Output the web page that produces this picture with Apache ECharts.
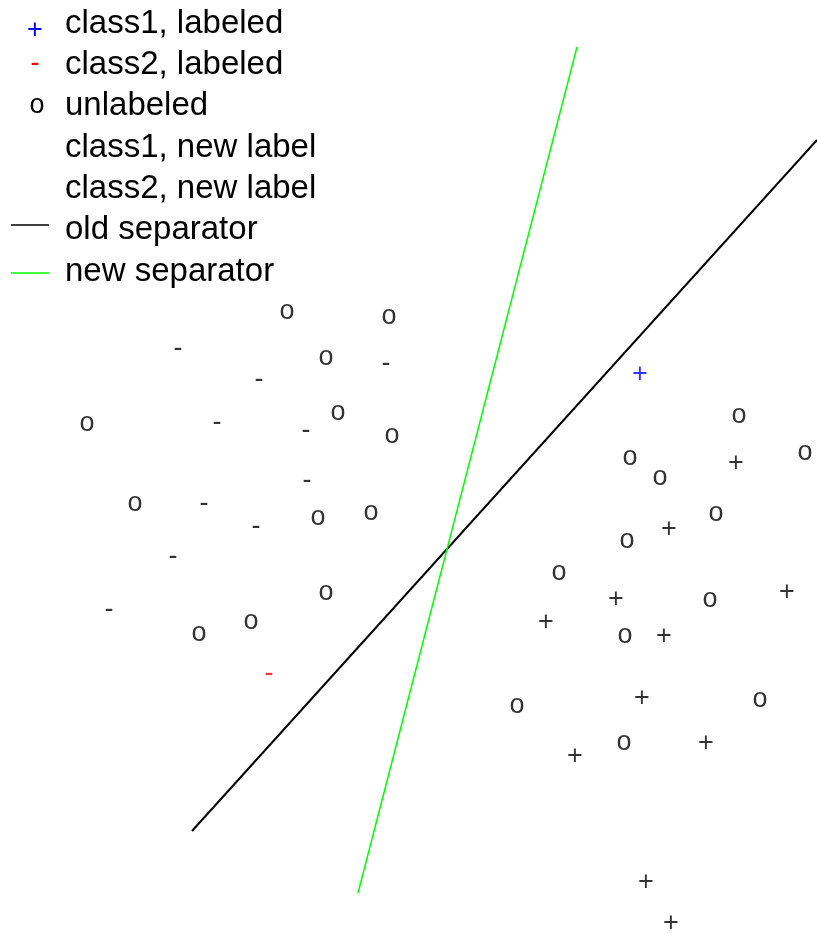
<!DOCTYPE html>
<html>
<head>
<meta charset="utf-8">
<script src="https://cdn.jsdelivr.net/npm/echarts@6/dist/echarts.min.js"></script>
<style>
html,body{margin:0;padding:0;background:#fff;}
#chart{width:817px;height:934px;}
</style>
</head>
<body>
<div id="chart"></div>
<script>
// ---- data (x, y in plot units) ----
const class1Labeled = [[6.40, 5.61]];
const class2Labeled = [[2.69, 2.61]];
const unlabeled = [
  [2.87, 6.23], [3.89, 6.18], [3.26, 5.77], [3.38, 5.22], [0.87, 5.11], [3.92, 4.99],
  [1.35, 4.31], [3.71, 4.22], [3.18, 4.17], [3.26, 3.42], [2.51, 3.13], [1.99, 3.01],
  [7.39, 5.19], [8.05, 4.82], [6.30, 4.77], [6.60, 4.57], [7.16, 4.21], [6.27, 3.94],
  [5.59, 3.62], [7.10, 3.35], [6.25, 2.99], [7.60, 2.35], [5.17, 2.29], [6.24, 1.92]
];
const class1NewLabel = [
  [7.36, 4.72], [6.69, 4.06], [6.16, 3.36], [7.87, 3.43], [5.46, 3.13], [6.64, 2.99],
  [6.42, 2.37], [7.06, 1.92], [5.75, 1.79], [6.46, 0.53], [6.71, 0.12]
];
const class2NewLabel = [
  [1.78, 5.86], [3.86, 5.71], [2.59, 5.55], [2.17, 5.12], [3.06, 5.04], [3.07, 4.54],
  [2.04, 4.31], [2.56, 4.08], [1.73, 3.78], [1.09, 3.25]
];
const oldSeparator = [[1.92, 1.03], [8.17, 7.94]];
const newSeparator = [[3.58, 0.41], [5.77, 8.87]];

const legendNames = ['class1, labeled', 'class2, labeled', 'unlabeled', 'class1, new label',
  'class2, new label', 'old separator', 'new separator'];

// ---- styling ----
const FONT = '"Liberation Sans", Arial, sans-serif';
const GLYPH_SIZE = 27;
const glyphs = {
  plus: { ch: '+', dy: 1.5 },
  minus: { ch: '-', dy: 1 },
  circ: { ch: 'o', dy: 0.5 }
};

function glyphSeries(name, data, glyph, color) {
  return {
    name: name,
    type: 'scatter',
    data: data,
    symbol: 'circle',
    symbolSize: 1,
    itemStyle: { color: 'rgba(0,0,0,0)' },
    label: {
      show: true,
      position: 'inside',
      formatter: glyph.ch,
      color: color,
      fontFamily: FONT,
      fontSize: GLYPH_SIZE,
      offset: [0, glyph.dy]
    },
    emphasis: { disabled: true },
    silent: true,
    z: 3
  };
}

function lineSeries(name, data, color, width) {
  return {
    name: name,
    type: 'line',
    data: data,
    symbol: 'none',
    showSymbol: false,
    lineStyle: { color: color, width: width },
    emphasis: { disabled: true },
    silent: true,
    z: 2
  };
}

// ---- legend (built from the names) ----
const legendMarkers = [
  { kind: 'glyph', glyph: glyphs.plus, color: '#0000ff', x: 35, y: 29 },
  { kind: 'glyph', glyph: glyphs.minus, color: '#ff0000', x: 35, y: 63 },
  { kind: 'glyph', glyph: glyphs.circ, color: '#000000', x: 37, y: 105 },
  null,
  null,
  { kind: 'line', color: '#000000', y: 225, width: 1.6 },
  { kind: 'line', color: '#00ff00', y: 273, width: 1.6 }
];
const legendGraphics = [];
legendNames.forEach(function (name, i) {
  legendGraphics.push({
    type: 'text',
    x: 65,
    y: 23.5 + 41.35 * i,
    style: {
      text: name,
      font: '33px ' + FONT,
      fill: '#000',
      textAlign: 'left',
      textVerticalAlign: 'middle'
    }
  });
  const m = legendMarkers[i];
  if (!m) return;
  if (m.kind === 'glyph') {
    legendGraphics.push({
      type: 'text',
      x: m.x,
      y: m.y + m.glyph.dy,
      style: {
        text: m.glyph.ch,
        font: GLYPH_SIZE + 'px ' + FONT,
        fill: m.color,
        textAlign: 'center',
        textVerticalAlign: 'middle'
      }
    });
  } else {
    legendGraphics.push({
      type: 'line',
      shape: { x1: 11, y1: m.y, x2: 49, y2: m.y },
      style: { stroke: m.color, lineWidth: m.width }
    });
  }
});

const chart = echarts.init(document.getElementById('chart'), null, { renderer: 'canvas' });
chart.setOption({
  backgroundColor: '#ffffff',
  animation: false,
  grid: { left: 0, right: 0, top: 0, bottom: 0, containLabel: false },
  xAxis: { type: 'value', min: 0, max: 8.17, show: false },
  yAxis: { type: 'value', min: 0, max: 9.34, show: false },
  graphic: legendGraphics,
  series: [
    glyphSeries(legendNames[0], class1Labeled, glyphs.plus, '#0000ff'),
    glyphSeries(legendNames[1], class2Labeled, glyphs.minus, '#ff0000'),
    glyphSeries(legendNames[2], unlabeled, glyphs.circ, '#000000'),
    glyphSeries(legendNames[3], class1NewLabel, glyphs.plus, '#000000'),
    glyphSeries(legendNames[4], class2NewLabel, glyphs.minus, '#000000'),
    lineSeries(legendNames[5], oldSeparator, '#000000', 2),
    lineSeries(legendNames[6], newSeparator, '#00ff00', 1.5)
  ]
});
</script>
</body>
</html>
